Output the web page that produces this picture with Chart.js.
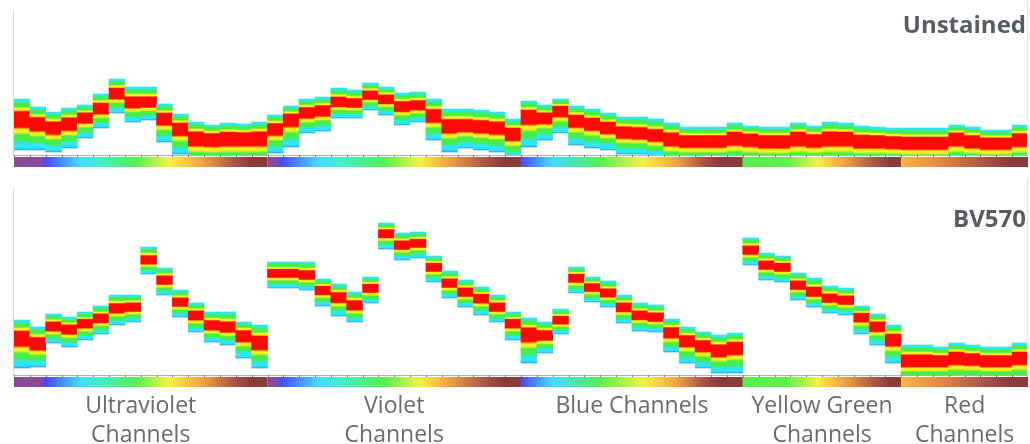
<!DOCTYPE html>
<html>
<head>
<meta charset="utf-8">
<script src="https://cdn.jsdelivr.net/npm/chart.js@4/dist/chart.umd.min.js"></script>
<style>
  html, body { margin: 0; padding: 0; background: #fff; overflow: hidden; }
  #wrap { position: relative; width: 1030px; height: 444px; }
  #wrap canvas { position: absolute; left: 0; }
</style>
</head>
<body>
<div id="wrap">
  <canvas id="unstained" width="1030" height="172" style="top:0"></canvas>
  <canvas id="bv570" width="1030" height="272" style="top:172px"></canvas>
</div>
<script>
// Detector groups (laser lines) and their channel counts
const groupNames = [['Ultraviolet', 'Channels'], ['Violet', 'Channels'], ['Blue Channels'], ['Yellow Green', 'Channels'], ['Red', 'Channels']];
const groupPrefixes = ['UV', 'V', 'B', 'YG', 'R'];
const groupSizes = [16, 16, 14, 10, 8];

// Channel names UV1..UV16, V1..V16, B1..B14, YG1..YG10, R1..R8
const channels = groupPrefixes.flatMap((p, g) => Array.from({ length: groupSizes[g] }, (_, k) => p + (k + 1)));

// Unstained: per channel, upper edge / modal value / lower edge of the population
const unstainedHigh = [56, 48, 43, 47, 50, 61, 76, 68, 68, 51, 41, 33, 30, 32, 31, 33,
                       40, 49, 56, 58, 67, 65, 72, 68, 62, 63, 56, 46, 46, 45, 43, 36,
                       54, 50, 56, 49, 46, 42, 38, 38, 36, 32, 28, 28, 28, 32,
                       29, 28, 28, 32, 29, 33, 32, 29, 28, 27,
                       27, 27, 27, 30, 28, 25, 25, 30];
const unstainedPeak = [37, 32, 28, 32, 38, 47, 62, 53, 53, 37, 27, 18, 17, 18, 18, 18,
                       27, 37, 43, 45, 53, 52, 60, 56, 49, 50, 40, 30, 30, 29, 28, 22,
                       40, 38, 45, 35, 32, 28, 23, 22, 20, 17, 15, 15, 15, 18,
                       17, 15, 15, 18, 16, 18, 18, 15, 15, 14,
                       13, 13, 13, 18, 15, 13, 13, 17];
const unstainedLow  = [5, 5, 3, 7, 17, 27, 42, 33, 35, 13, 1, -12, -12, -12, -12, -12,
                       2, 8, 22, 24, 37, 37, 45, 40, 30, 33, 15, 3, 7, 5, 3, -4,
                       8, 15, 22, 10, 7, 5, 1, 1, -2, -10, -10, -10, -10, -10,
                       -12, -12, -12, -12, -12, -12, -12, -12, -12, -12,
                       -12, -12, -12, -12, -12, -12, -12, -12];

// BV570 single-stained control
const bv570High = [55, 48, 61, 58, 63, 69, 80, 80, 128, 107, 85, 72, 63, 63, 53, 50,
                   113, 113, 113, 96, 91, 83, 98, 152, 142, 143, 119, 104, 95, 88, 80, 63,
                   57, 53, 66, 108, 98, 94, 80, 72, 70, 56, 48, 43, 40, 42,
                   137, 122, 119, 102, 97, 89, 87, 69, 61, 50,
                   30, 30, 28, 32, 30, 28, 28, 32];
const bv570Peak = [38, 32, 49, 46, 52, 57, 67, 68, 115, 95, 73, 60, 50, 48, 40, 33,
                   102, 102, 100, 85, 78, 70, 87, 142, 130, 132, 108, 92, 83, 77, 68, 52,
                   42, 40, 55, 97, 88, 82, 68, 60, 58, 43, 35, 30, 25, 28,
                   125, 110, 108, 90, 83, 77, 75, 58, 49, 36,
                   15, 15, 15, 18, 17, 15, 15, 18];
const bv570Low  = [7, 8, 32, 28, 35, 41, 50, 53, 101, 80, 58, 43, 33, 30, 17, 7,
                   87, 87, 85, 69, 59, 53, 72, 126, 115, 117, 93, 77, 68, 60, 53, 35,
                   12, 22, 41, 82, 73, 68, 52, 44, 43, 23, 12, 7, 2, 2,
                   110, 95, 93, 75, 68, 62, 60, 41, 30, 12,
                   -8, -8, -8, -8, -8, -8, -8, -8];

// Density colour ramp: upper tail -> mode, then mode -> lower tail
const CYAN = '#2ee6f6', GREEN = '#46ee46', YELLOW = '#f6f020', RED = '#fe0a02', BLUE = '#2aa2ff';
const UPPER = [[0, CYAN], [0.1, CYAN], [0.24, GREEN], [0.4, GREEN], [0.5, YELLOW], [0.58, YELLOW], [0.68, RED], [1, RED]];
const LOWER = [[0, RED], [0.28, RED], [0.36, YELLOW], [0.44, YELLOW], [0.54, GREEN], [0.68, GREEN], [0.8, CYAN], [0.93, CYAN], [1, BLUE]];

// Emission wavelength strip under each detector group
const stripStops = [
  [[0, '#8a4a9a'], [0.105, '#8a4a9a'], [0.125, '#4a48f6'], [0.26, '#42dcff'], [0.34, '#44f0c4'], [0.48, '#54f050'], [0.61, '#f6f042'], [0.74, '#f4a444'], [0.87, '#a85448'], [0.93, '#8a3c3c'], [1, '#8a3c3c']],
  [[0, '#8a4a9a'], [0.035, '#8a4a9a'], [0.05, '#4a48f6'], [0.2, '#42dcff'], [0.3, '#44f0c4'], [0.46, '#54f050'], [0.6, '#f6f042'], [0.71, '#f4a444'], [0.86, '#a85448'], [0.93, '#8a3c3c'], [1, '#8a3c3c']],
  [[0, '#4a48f6'], [0.14, '#42dcff'], [0.35, '#54f050'], [0.55, '#f6f042'], [0.7, '#f4a444'], [0.82, '#a85448'], [0.89, '#8a3c3c'], [1, '#8a3c3c']],
  [[0, '#54f050'], [0.28, '#60f04c'], [0.47, '#f6f042'], [0.63, '#f4a444'], [0.84, '#a85448'], [0.93, '#8a3c3c'], [1, '#8a3c3c']],
  [[0, '#f8b444'], [0.3, '#e48a42'], [0.65, '#a85448'], [0.85, '#8a3c3c'], [1, '#8a3c3c']]
];

function bandFill(high, peak, low) {
  return (c) => {
    if (c.type !== 'data' || !c.chart.chartArea) return 'rgba(0,0,0,0)';
    const y = c.chart.scales.y, i = c.dataIndex;
    const yt = y.getPixelForValue(high[i]);
    const yp = y.getPixelForValue(peak[i]);
    const yb = y.getPixelForValue(low[i]);
    const g = c.chart.ctx.createLinearGradient(0, yt, 0, yb);
    const f = (yp - yt) / (yb - yt);
    UPPER.forEach(([t, col]) => g.addColorStop(t * f, col));
    LOWER.forEach(([t, col]) => g.addColorStop(f + t * (1 - f), col));
    return g;
  };
}

// Axis frame, wavelength strip, panel title and group labels
const panelDecor = {
  id: 'panelDecor',
  afterDatasetsDraw(chart, args, opts) {
    const { ctx, chartArea: a, scales: { x } } = chart;
    const w = (a.right - a.left) / channels.length;
    ctx.save();
    ctx.fillStyle = '#d6d6d6';
    ctx.fillRect(a.left - 1, a.top, 1, a.bottom - a.top + 1);
    ctx.fillStyle = '#e4e4e4';
    ctx.fillRect(a.right - 1, a.top - 10, 1, a.bottom - a.top + 10);
    ctx.fillStyle = '#b4b4b4';
    ctx.fillRect(a.left, a.bottom, a.right - a.left, 1);
    ctx.fillStyle = '#7a7a7a';
    channels.forEach((_, i) => {
      const px = Math.round(x.getPixelForValue(i) - w / 2);
      ctx.fillRect(px, a.bottom, 1, 2);
    });
    let start = 0;
    groupSizes.forEach((size, gi) => {
      const x0 = x.getPixelForValue(start) - w / 2;
      const x1 = x.getPixelForValue(start + size - 1) + w / 2;
      const grad = ctx.createLinearGradient(x0, 0, x1, 0);
      stripStops[gi].forEach(([t, col]) => grad.addColorStop(t, col));
      ctx.fillStyle = grad;
      ctx.fillRect(x0, a.bottom + 2, x1 - x0, 10);
      if (opts.groupLabels) {
        ctx.font = '23px "Open Sans", "Noto Sans", sans-serif';
        ctx.fillStyle = '#676b70';
        ctx.textAlign = 'center';
        ctx.textBaseline = 'alphabetic';
        groupNames[gi].forEach((line, li) => {
          ctx.fillText(line, (x0 + x1) / 2, a.bottom + 38 + li * 29);
        });
      }
      start += size;
    });
    ctx.font = 'bold 24px "Open Sans", "Noto Sans", sans-serif';
    ctx.fillStyle = '#575c62';
    ctx.textAlign = 'right';
    ctx.textBaseline = 'alphabetic';
    ctx.fillText(opts.title, a.right - 2, opts.titleY);
    ctx.restore();
  }
};

function makePanel(id, title, titleY, high, peak, low, yMax, padding, groupLabels) {
  return new Chart(document.getElementById(id), {
    type: 'bar',
    data: {
      labels: channels,
      datasets: [{
        label: title,
        data: channels.map((_, i) => [low[i], high[i]]),
        backgroundColor: bandFill(high, peak, low),
        borderWidth: 0,
        barPercentage: 1,
        categoryPercentage: 1,
        clip: 0
      }]
    },
    options: {
      responsive: false,
      devicePixelRatio: 1,
      animation: false,
      events: [],
      layout: { padding },
      scales: {
        x: { type: 'category', display: false },
        y: { display: false, min: 0, max: yMax }
      },
      plugins: {
        legend: { display: false },
        tooltip: { enabled: false },
        panelDecor: { title, titleY, groupLabels }
      }
    },
    plugins: [panelDecor]
  });
}

makePanel('unstained', 'Unstained', 33, unstainedHigh, unstainedPeak, unstainedLow, 145,
  { left: 14, right: 2, top: 10, bottom: 17 }, false);
makePanel('bv570', 'BV570', 55, bv570High, bv570Peak, bv570Low, 186,
  { left: 14, right: 2, top: 17, bottom: 69 }, true);
</script>
</body>
</html>
